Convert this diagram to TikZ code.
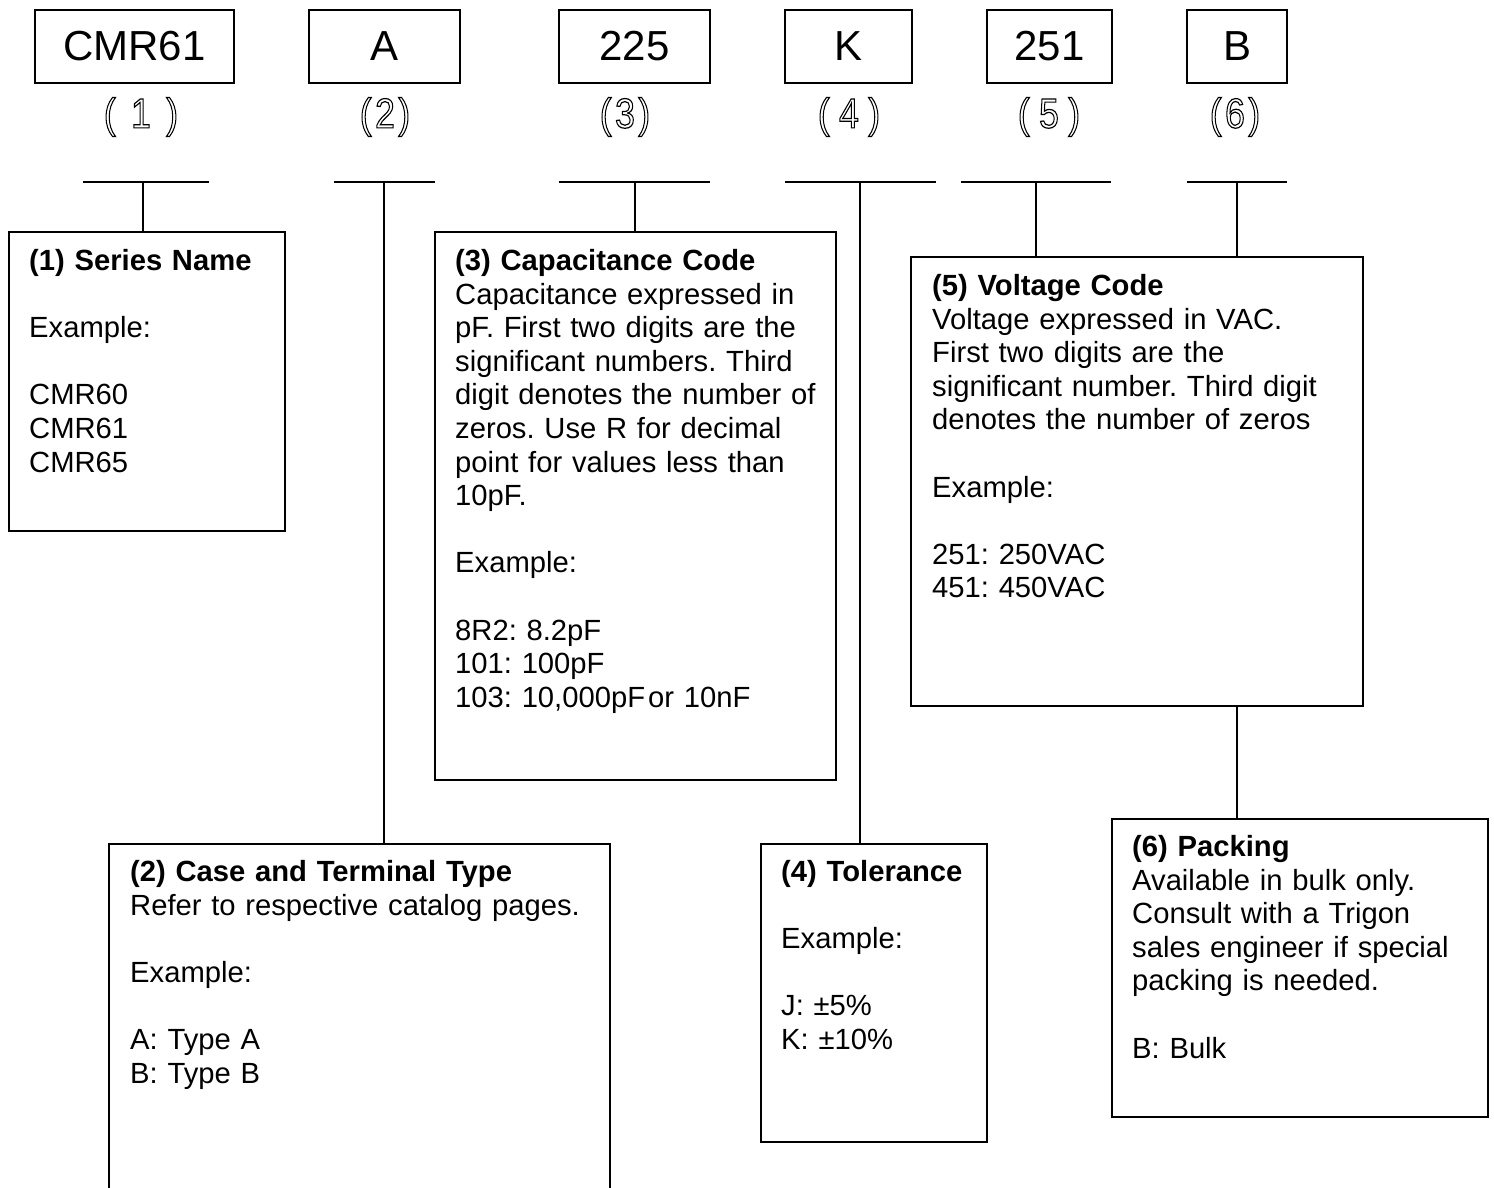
\documentclass[tikz,border=0pt]{standalone}
\usepackage{fontspec}
\setmainfont{Liberation Sans}
\usepackage{graphicx}
\frenchspacing
\newcommand\outlinetxt[1]{\special{pdf:literal direct 1 Tr 1.2 w}#1\special{pdf:literal direct 0 Tr}}
\newcommand\wsp{\hspace{18pt}}
\tikzset{
  topbox/.style={draw, line width=1.8pt, inner sep=0pt, minimum height=73pt, font=\fontsize{42}{48}\selectfont},
  infobox/.style={draw, line width=1.8pt, inner sep=0pt, anchor=north west},
  infotext/.style={anchor=base west, inner sep=0pt, text width=#1, align=left, font=\fontsize{29.2}{33.6}\selectfont},
  barline/.style={line width=1.8pt},
  conn/.style={line width=1.8pt},
  lbl/.style={inner sep=0pt, font=\fontsize{42}{46}\selectfont},
}
\begin{document}
\begin{tikzpicture}[x=1pt,y=-1pt]
\useasboundingbox (0,0) rectangle (1494,1188);

% top code boxes
\node[topbox, minimum width=199pt] (t1) at (134.5,46.5) {CMR61};
\node[topbox, minimum width=151pt] (t2) at (384.5,46.5) {A};
\node[topbox, minimum width=151pt] (t3) at (634.5,46.5) {225};
\node[topbox, minimum width=127pt] (t4) at (848.5,46.5) {K};
\node[topbox, minimum width=125pt] (t5) at (1049.5,46.5) {251};
\node[topbox, minimum width=100pt] (t6) at (1237,46.5) {B};

% outlined index labels
\node[lbl] (l1) at (141,117) {\scalebox{0.85}[1]{\outlinetxt{(\wsp 1\wsp )}}};
\node[lbl] (l2) at (385,117) {\scalebox{0.85}[1]{\outlinetxt{(\hspace{4pt}2\hspace{4pt})}}};
\node[lbl] (l3) at (625,117) {\scalebox{0.85}[1]{\outlinetxt{(\hspace{4pt}3\hspace{4pt})}}};
\node[lbl] (l4) at (849,117) {\scalebox{0.85}[1]{\outlinetxt{(\hspace{11pt}4\hspace{11pt})}}};
\node[lbl] (l5) at (1049,117) {\scalebox{0.85}[1]{\outlinetxt{(\hspace{11pt}5\hspace{11pt})}}};
\node[lbl] (l6) at (1235,117) {\scalebox{0.85}[1]{\outlinetxt{(\hspace{4pt}6\hspace{4pt})}}};

% placeholder bars
\draw[barline] (83,182) -- (209,182);
\draw[barline] (334,182) -- (435,182);
\draw[barline] (559,182) -- (710,182);
\draw[barline] (785,182) -- (936,182);
\draw[barline] (961,182) -- (1111,182);
\draw[barline] (1187,182) -- (1287,182);
\coordinate (m1) at (143,182);
\coordinate (m2) at (384,182);
\coordinate (m3) at (635,182);
\coordinate (m4) at (860,182);
\coordinate (m5) at (1036,182);
\coordinate (m6) at (1237,182);

% description boxes
\node[infobox, minimum width=276pt, minimum height=299pt] (b1) at (8,231) {};
\node[infobox, minimum width=501pt, minimum height=380pt] (b2) at (108,843) {};
\node[infobox, minimum width=401pt, minimum height=548pt] (b3) at (434,231) {};
\node[infobox, minimum width=226pt, minimum height=298pt] (b4) at (760,843) {};
\node[infobox, minimum width=452pt, minimum height=449pt] (b5) at (910,256) {};
\node[infobox, minimum width=376pt, minimum height=298pt] (b6) at (1111,818) {};

% connectors
\draw[conn] (m1) -- (m1 |- b1.north);
\draw[conn] (m2) -- (m2 |- b2.north);
\draw[conn] (m3) -- (m3 |- b3.north);
\draw[conn] (m4) -- (m4 |- b4.north);
\draw[conn] (m5) -- (m5 |- b5.north);
\draw[conn] (m6) -- (m6 |- b5.north);
\draw[conn] (m6 |- b5.south) -- (m6 |- b6.north);

% texts
\node[infotext=250pt] (x1) at (29,270.5) {\textbf{(1) Series Name}\\[33.6pt]
Example:\\[33.6pt]
CMR60\\
CMR61\\
CMR65};

\node[infotext=460pt] (x2) at (130,881.5) {\textbf{(2) Case and Terminal Type}\\
Refer to respective catalog pages.\\[33.6pt]
Example:\\[33.6pt]
A: Type A\\
B: Type B};

\node[infotext=375pt] (x3) at (455,270.5) {\textbf{(3) Capacitance Code}\\
Capacitance expressed in\\
pF. First two digits are the\\
significant numbers. Third\\
digit denotes the number of\\
zeros. Use R for decimal\\
point for values less than\\
10pF.\\[33.6pt]
Example:\\[33.6pt]
8R2: 8.2pF\\
101: 100pF\\
103: 10,000pF\hspace{3pt}or 10nF};

\node[infotext=200pt] (x4) at (781,881.5) {\textbf{(4) Tolerance}\\[33.6pt]
Example:\\[33.6pt]
J: \char"00B1 5\%\\
K: \char"00B1 10\%};

\node[infotext=425pt] (x5) at (932,295.5) {\textbf{(5) Voltage Code}\\
Voltage expressed in VAC.\\
First two digits are the\\
significant number. Third digit\\
denotes the number of zeros\\[33.6pt]
Example:\\[33.6pt]
251: 250VAC\\
451: 450VAC};

\node[infotext=350pt] (x6) at (1132,856.5) {\textbf{(6) Packing}\\
Available in bulk only.\\
Consult with a Trigon\\
sales engineer if special\\
packing is needed.\\[33.6pt]
B: Bulk};
\end{tikzpicture}
\end{document}
